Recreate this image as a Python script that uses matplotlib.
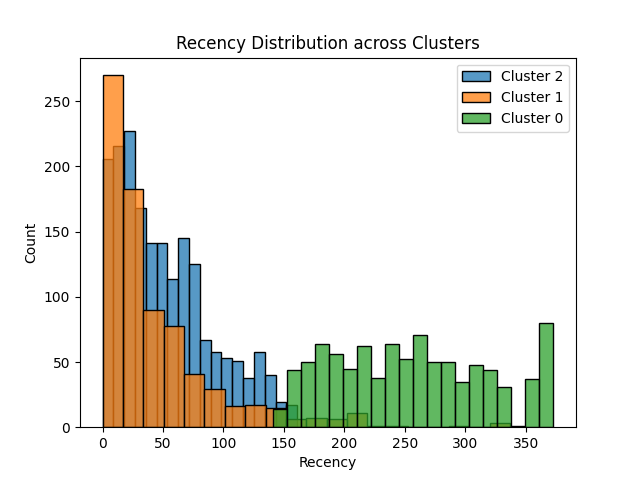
import numpy as np
import matplotlib
matplotlib.use("Agg")
import matplotlib.pyplot as plt
from matplotlib.colors import to_rgba

# Recency histogram counts, per cluster
cluster_names = ["Cluster 2", "Cluster 1", "Cluster 0"]

cluster2_range = (0, 161)
cluster2_counts = [206, 216, 227, 168, 141, 141, 114, 145, 125,
                   67, 58, 53, 51, 38, 58, 40, 19, 17]

cluster1_range = (0, 337)
cluster1_counts = [270, 183, 90, 78, 41, 29, 16, 17, 15, 6,
                   7, 6, 11, 1, 1, 0, 0, 1, 0, 3]

cluster0_range = (141, 373)
cluster0_counts = [14, 44, 50, 64, 56, 45, 62, 38, 64, 52,
                   71, 50, 50, 35, 48, 44, 31, 1, 37, 80]

fig, ax = plt.subplots(figsize=(6.4, 4.8), dpi=100)

series = [
    (cluster2_range, cluster2_counts, "C0"),
    (cluster1_range, cluster1_counts, "C1"),
    (cluster0_range, cluster0_counts, "C2"),
]

for name, (rng, counts, col) in zip(cluster_names, series):
    edges = np.linspace(rng[0], rng[1], len(counts) + 1)
    widths = np.diff(edges)
    ax.bar(edges[:-1], counts, widths, align="edge",
           facecolor=to_rgba(col, 0.75), edgecolor="black",
           linewidth=1, label=name)

ax.set_title("Recency Distribution across Clusters")
ax.set_xlabel("Recency")
ax.set_ylabel("Count")
ax.legend()

fig.savefig("out.png")
